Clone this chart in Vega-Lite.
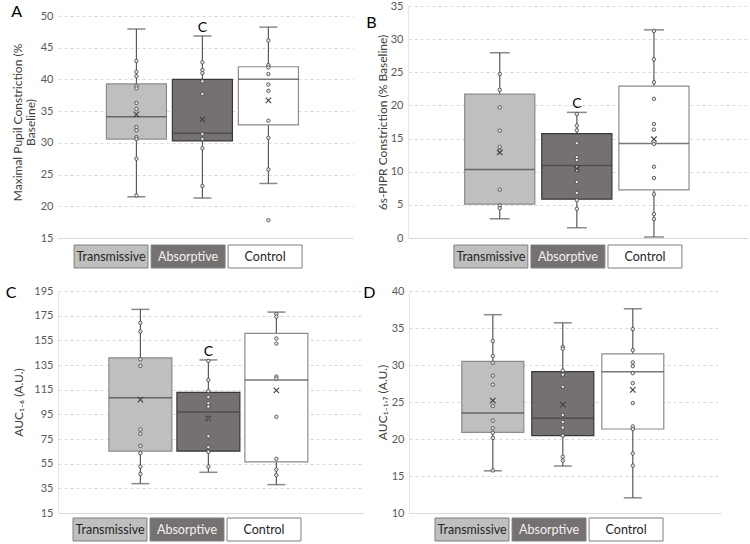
{
  "$schema": "https://vega.github.io/schema/vega-lite/v6.json",
  "padding": {"left": 5, "top": 0, "right": 5, "bottom": 0},
  "spacing": 15,
  "datasets": {
    "sumA": [
      {"group": "Transmissive", "lower": 21.5, "q1": 30.6, "median": 34.1, "q3": 39.3, "upper": 47.95, "mean": 34.5, "sig": ""},
      {"group": "Absorptive", "lower": 21.3, "q1": 30.3, "median": 31.5, "q3": 40.0, "upper": 46.85, "mean": 33.7, "sig": "C"},
      {"group": "Control", "lower": 23.6, "q1": 32.85, "median": 40.05, "q3": 42.0, "upper": 48.25, "mean": 36.7, "sig": ""}
    ],
    "ptsA": [
      {"group": "Transmissive", "value": 42.9}, {"group": "Transmissive", "value": 41.2}, {"group": "Transmissive", "value": 40.5},
      {"group": "Transmissive", "value": 38.95}, {"group": "Transmissive", "value": 38.6}, {"group": "Transmissive", "value": 36.3},
      {"group": "Transmissive", "value": 35.35}, {"group": "Transmissive", "value": 32.5}, {"group": "Transmissive", "value": 32.0},
      {"group": "Transmissive", "value": 30.9}, {"group": "Transmissive", "value": 30.6}, {"group": "Transmissive", "value": 27.5},
      {"group": "Transmissive", "value": 21.7},
      {"group": "Absorptive", "value": 42.7}, {"group": "Absorptive", "value": 41.5}, {"group": "Absorptive", "value": 41.0},
      {"group": "Absorptive", "value": 39.7}, {"group": "Absorptive", "value": 37.7}, {"group": "Absorptive", "value": 31.4},
      {"group": "Absorptive", "value": 30.6}, {"group": "Absorptive", "value": 29.15}, {"group": "Absorptive", "value": 23.2},
      {"group": "Control", "value": 46.15}, {"group": "Control", "value": 42.25}, {"group": "Control", "value": 41.9},
      {"group": "Control", "value": 40.85}, {"group": "Control", "value": 39.2}, {"group": "Control", "value": 38.2},
      {"group": "Control", "value": 33.5}, {"group": "Control", "value": 30.8}, {"group": "Control", "value": 25.8},
      {"group": "Control", "value": 17.8}
    ],
    "sumB": [
      {"group": "Transmissive", "lower": 2.9, "q1": 5.1, "median": 10.35, "q3": 21.7, "upper": 27.95, "mean": 12.9, "sig": ""},
      {"group": "Absorptive", "lower": 1.55, "q1": 5.85, "median": 10.95, "q3": 15.75, "upper": 18.95, "mean": 10.45, "sig": "C"},
      {"group": "Control", "lower": 0.15, "q1": 7.25, "median": 14.25, "q3": 22.9, "upper": 31.4, "mean": 14.9, "sig": ""}
    ],
    "ptsB": [
      {"group": "Transmissive", "value": 24.75}, {"group": "Transmissive", "value": 22.35}, {"group": "Transmissive", "value": 19.7},
      {"group": "Transmissive", "value": 16.2}, {"group": "Transmissive", "value": 13.75}, {"group": "Transmissive", "value": 13.15},
      {"group": "Transmissive", "value": 7.3}, {"group": "Transmissive", "value": 4.9}, {"group": "Transmissive", "value": 4.5},
      {"group": "Absorptive", "value": 18.7}, {"group": "Absorptive", "value": 16.95}, {"group": "Absorptive", "value": 16.25},
      {"group": "Absorptive", "value": 14.3}, {"group": "Absorptive", "value": 12.2}, {"group": "Absorptive", "value": 11.75},
      {"group": "Absorptive", "value": 10.65}, {"group": "Absorptive", "value": 10.25}, {"group": "Absorptive", "value": 8.45},
      {"group": "Absorptive", "value": 6.8}, {"group": "Absorptive", "value": 5.7}, {"group": "Absorptive", "value": 4.4},
      {"group": "Control", "value": 31.25}, {"group": "Control", "value": 26.95}, {"group": "Control", "value": 23.5},
      {"group": "Control", "value": 21.0}, {"group": "Control", "value": 17.2}, {"group": "Control", "value": 16.35},
      {"group": "Control", "value": 14.2}, {"group": "Control", "value": 10.75}, {"group": "Control", "value": 9.05},
      {"group": "Control", "value": 6.6}, {"group": "Control", "value": 3.6}, {"group": "Control", "value": 2.85}
    ],
    "sumC": [
      {"group": "Transmissive", "lower": 38.8, "q1": 65.1, "median": 108.5, "q3": 140.8, "upper": 180.1, "mean": 106.9, "sig": ""},
      {"group": "Absorptive", "lower": 48.0, "q1": 65.1, "median": 96.8, "q3": 112.8, "upper": 139.1, "mean": 91.7, "sig": "C"},
      {"group": "Control", "lower": 38.0, "q1": 56.4, "median": 122.9, "q3": 160.6, "upper": 177.9, "mean": 114.5, "sig": ""}
    ],
    "ptsC": [
      {"group": "Transmissive", "value": 169.2}, {"group": "Transmissive", "value": 162.2}, {"group": "Transmissive", "value": 139.7},
      {"group": "Transmissive", "value": 134.3}, {"group": "Transmissive", "value": 82.7}, {"group": "Transmissive", "value": 79.2},
      {"group": "Transmissive", "value": 69.4}, {"group": "Transmissive", "value": 63.5}, {"group": "Transmissive", "value": 52.6},
      {"group": "Transmissive", "value": 46.7},
      {"group": "Absorptive", "value": 138.3}, {"group": "Absorptive", "value": 122.9}, {"group": "Absorptive", "value": 113.9},
      {"group": "Absorptive", "value": 109.0}, {"group": "Absorptive", "value": 103.9}, {"group": "Absorptive", "value": 101.4},
      {"group": "Absorptive", "value": 91.7}, {"group": "Absorptive", "value": 77.3}, {"group": "Absorptive", "value": 68.4},
      {"group": "Absorptive", "value": 64.6}, {"group": "Absorptive", "value": 52.6},
      {"group": "Control", "value": 176.3}, {"group": "Control", "value": 174.1}, {"group": "Control", "value": 156.5},
      {"group": "Control", "value": 152.4}, {"group": "Control", "value": 125.6}, {"group": "Control", "value": 124.0},
      {"group": "Control", "value": 93.0}, {"group": "Control", "value": 58.9}, {"group": "Control", "value": 50.2},
      {"group": "Control", "value": 45.6}
    ],
    "sumD": [
      {"group": "Transmissive", "lower": 15.7, "q1": 20.9, "median": 23.5, "q3": 30.5, "upper": 36.8, "mean": 25.2, "sig": ""},
      {"group": "Absorptive", "lower": 16.35, "q1": 20.45, "median": 22.8, "q3": 29.1, "upper": 35.7, "mean": 24.65, "sig": ""},
      {"group": "Control", "lower": 12.05, "q1": 21.35, "median": 29.1, "q3": 31.5, "upper": 37.6, "mean": 26.65, "sig": ""}
    ],
    "ptsD": [
      {"group": "Transmissive", "value": 33.25}, {"group": "Transmissive", "value": 31.2}, {"group": "Transmissive", "value": 30.3},
      {"group": "Transmissive", "value": 28.55}, {"group": "Transmissive", "value": 27.35}, {"group": "Transmissive", "value": 24.45},
      {"group": "Transmissive", "value": 22.5}, {"group": "Transmissive", "value": 21.45}, {"group": "Transmissive", "value": 20.85},
      {"group": "Transmissive", "value": 20.15}, {"group": "Transmissive", "value": 15.75},
      {"group": "Absorptive", "value": 32.45}, {"group": "Absorptive", "value": 32.2}, {"group": "Absorptive", "value": 29.25},
      {"group": "Absorptive", "value": 28.7}, {"group": "Absorptive", "value": 27.05}, {"group": "Absorptive", "value": 23.25},
      {"group": "Absorptive", "value": 22.3}, {"group": "Absorptive", "value": 21.55}, {"group": "Absorptive", "value": 20.45},
      {"group": "Absorptive", "value": 17.6}, {"group": "Absorptive", "value": 17.1},
      {"group": "Control", "value": 34.85}, {"group": "Control", "value": 32.0}, {"group": "Control", "value": 30.35},
      {"group": "Control", "value": 29.85}, {"group": "Control", "value": 28.9}, {"group": "Control", "value": 27.55},
      {"group": "Control", "value": 24.85}, {"group": "Control", "value": 21.7}, {"group": "Control", "value": 21.35},
      {"group": "Control", "value": 18.05}, {"group": "Control", "value": 16.4}
    ]
  },
  "vconcat": [
    {
      "columns": 2,
      "align": "none",
      "spacing": 13,
      "concat": [
        {
          "bounds": "flush",
          "spacing": 7,
          "resolve": {"scale": {"x": "independent"}},
          "vconcat": [
            {
              "width": 295, "height": 232,
              "title": {"text": "A", "offset": -14, "dx": 0},
              "encoding": {"x": {"field": "group", "type": "nominal", "scale": {"domain": ["Transmissive", "Absorptive", "Control"], "paddingInner": 0.09, "paddingOuter": 0.78, "align": 0.47}, "axis": {"labels": false, "ticks": false, "title": null}}},
              "layer": [
                {"data": {"name": "sumA"}, "mark": {"type": "rule", "color": "#595959", "strokeWidth": 1.2},
                 "encoding": {"y": {"field": "lower", "type": "quantitative", "scale": {"domain": [15, 51.58], "nice": false, "zero": false}, "axis": {"values": [15, 20, 25, 30, 35, 40, 45, 50], "title": ["Maximal Pupil Constriction (%", "Baseline)"], "titlePadding": 3, "titleLineHeight": 13, "domain": false}}, "y2": {"field": "upper"}}},
                {"data": {"name": "sumA"}, "mark": {"type": "bar", "strokeWidth": 1.2},
                 "encoding": {"y": {"field": "q1", "type": "quantitative", "scale": {"domain": [15, 51.58], "nice": false, "zero": false}, "axis": {"values": [15, 20, 25, 30, 35, 40, 45, 50], "title": ["Maximal Pupil Constriction (%", "Baseline)"], "titlePadding": 3, "titleLineHeight": 13, "domain": false}}, "y2": {"field": "q3"},
                   "fill": {"field": "group", "type": "nominal", "scale": {"domain": ["Transmissive", "Absorptive", "Control"], "range": ["#bfbfbf", "#767171", "#ffffff"]}, "legend": null},
                   "stroke": {"field": "group", "type": "nominal", "scale": {"domain": ["Transmissive", "Absorptive", "Control"], "range": ["#8c8c8c", "#3a3838", "#8c8c8c"]}, "legend": null}}},
                {"data": {"name": "sumA"}, "mark": {"type": "tick", "color": "#595959", "size": 18, "thickness": 1.5},
                 "encoding": {"y": {"field": "upper", "type": "quantitative", "scale": {"domain": [15, 51.58], "nice": false, "zero": false}, "axis": {"values": [15, 20, 25, 30, 35, 40, 45, 50], "title": ["Maximal Pupil Constriction (%", "Baseline)"], "titlePadding": 3, "titleLineHeight": 13, "domain": false}}}},
                {"data": {"name": "sumA"}, "mark": {"type": "tick", "color": "#595959", "size": 18, "thickness": 1.5},
                 "encoding": {"y": {"field": "lower", "type": "quantitative", "scale": {"domain": [15, 51.58], "nice": false, "zero": false}, "axis": {"values": [15, 20, 25, 30, 35, 40, 45, 50], "title": ["Maximal Pupil Constriction (%", "Baseline)"], "titlePadding": 3, "titleLineHeight": 13, "domain": false}}}},
                {"data": {"name": "sumA"}, "mark": {"type": "tick", "color": "#404040", "size": 60, "thickness": 1.5},
                 "encoding": {"y": {"field": "median", "type": "quantitative", "scale": {"domain": [15, 51.58], "nice": false, "zero": false}, "axis": {"values": [15, 20, 25, 30, 35, 40, 45, 50], "title": ["Maximal Pupil Constriction (%", "Baseline)"], "titlePadding": 3, "titleLineHeight": 13, "domain": false}}}},
                {"data": {"name": "ptsA"}, "mark": {"type": "point", "shape": "circle", "size": 12, "filled": true, "fill": "#e6e6e6", "stroke": "#404040", "strokeWidth": 0.8, "opacity": 1},
                 "encoding": {"y": {"field": "value", "type": "quantitative", "scale": {"domain": [15, 51.58], "nice": false, "zero": false}, "axis": {"values": [15, 20, 25, 30, 35, 40, 45, 50], "title": ["Maximal Pupil Constriction (%", "Baseline)"], "titlePadding": 3, "titleLineHeight": 13, "domain": false}}}},
                {"data": {"name": "sumA"}, "mark": {"type": "point", "shape": "M-1,-1L1,1M-1,1L1,-1", "size": 30, "filled": false, "stroke": "#404040", "strokeWidth": 1.1, "opacity": 1},
                 "encoding": {"y": {"field": "mean", "type": "quantitative", "scale": {"domain": [15, 51.58], "nice": false, "zero": false}, "axis": {"values": [15, 20, 25, 30, 35, 40, 45, 50], "title": ["Maximal Pupil Constriction (%", "Baseline)"], "titlePadding": 3, "titleLineHeight": 13, "domain": false}}}},
                {"data": {"name": "sumA"}, "mark": {"type": "text", "fontSize": 14, "dy": -8, "color": "#000000"},
                 "encoding": {"y": {"field": "upper", "type": "quantitative", "scale": {"domain": [15, 51.58], "nice": false, "zero": false}, "axis": {"values": [15, 20, 25, 30, 35, 40, 45, 50], "title": ["Maximal Pupil Constriction (%", "Baseline)"], "titlePadding": 3, "titleLineHeight": 13, "domain": false}}, "text": {"field": "sig"}}}
              ]
            },
            {
              "width": 295, "height": 23,
              "data": {"name": "sumA"},
              "encoding": {"x": {"field": "group", "type": "nominal", "scale": {"domain": ["Transmissive", "Absorptive", "Control"], "paddingInner": 0.04, "paddingOuter": 0.435, "align": 0.24}, "axis": null}},
              "layer": [
                {"mark": {"type": "bar", "stroke": "#7f7f7f", "strokeWidth": 1},
                 "encoding": {"fill": {"field": "group", "type": "nominal", "scale": {"domain": ["Transmissive", "Absorptive", "Control"], "range": ["#bfbfbf", "#767171", "#ffffff"]}, "legend": null}}},
                {"mark": {"type": "text", "fontSize": 12.5},
                 "encoding": {"text": {"field": "group"}, "color": {"condition": {"test": "datum.group === 'Absorptive'", "value": "#f2f2f2"}, "value": "#262626"}}}
              ]
            }
          ]
        },
        {
          "bounds": "flush",
          "spacing": 7,
          "resolve": {"scale": {"x": "independent"}},
          "vconcat": [
            {
              "width": 340, "height": 232,
              "title": {"text": "B", "offset": -31, "dx": -10},
              "encoding": {"x": {"field": "group", "type": "nominal", "scale": {"domain": ["Transmissive", "Absorptive", "Control"], "paddingInner": 0.09, "paddingOuter": 0.75, "align": 0.49}, "axis": {"labels": false, "ticks": false, "title": null}}},
              "layer": [
                {"data": {"name": "sumB"}, "mark": {"type": "rule", "color": "#595959", "strokeWidth": 1.2},
                 "encoding": {"y": {"field": "lower", "type": "quantitative", "scale": {"domain": [0, 35], "nice": false, "zero": false}, "axis": {"values": [0, 5, 10, 15, 20, 25, 30, 35], "title": "6s-PIPR Constriction (% Baseline)", "titlePadding": 1}}, "y2": {"field": "upper"}}},
                {"data": {"name": "sumB"}, "mark": {"type": "bar", "strokeWidth": 1.2},
                 "encoding": {"y": {"field": "q1", "type": "quantitative", "scale": {"domain": [0, 35], "nice": false, "zero": false}, "axis": {"values": [0, 5, 10, 15, 20, 25, 30, 35], "title": "6s-PIPR Constriction (% Baseline)", "titlePadding": 1}}, "y2": {"field": "q3"},
                   "fill": {"field": "group", "type": "nominal", "scale": {"domain": ["Transmissive", "Absorptive", "Control"], "range": ["#bfbfbf", "#767171", "#ffffff"]}, "legend": null},
                   "stroke": {"field": "group", "type": "nominal", "scale": {"domain": ["Transmissive", "Absorptive", "Control"], "range": ["#8c8c8c", "#3a3838", "#8c8c8c"]}, "legend": null}}},
                {"data": {"name": "sumB"}, "mark": {"type": "tick", "color": "#595959", "size": 20, "thickness": 1.5},
                 "encoding": {"y": {"field": "upper", "type": "quantitative", "scale": {"domain": [0, 35], "nice": false, "zero": false}, "axis": {"values": [0, 5, 10, 15, 20, 25, 30, 35], "title": "6s-PIPR Constriction (% Baseline)", "titlePadding": 1}}}},
                {"data": {"name": "sumB"}, "mark": {"type": "tick", "color": "#595959", "size": 20, "thickness": 1.5},
                 "encoding": {"y": {"field": "lower", "type": "quantitative", "scale": {"domain": [0, 35], "nice": false, "zero": false}, "axis": {"values": [0, 5, 10, 15, 20, 25, 30, 35], "title": "6s-PIPR Constriction (% Baseline)", "titlePadding": 1}}}},
                {"data": {"name": "sumB"}, "mark": {"type": "tick", "color": "#404040", "size": 70, "thickness": 1.5},
                 "encoding": {"y": {"field": "median", "type": "quantitative", "scale": {"domain": [0, 35], "nice": false, "zero": false}, "axis": {"values": [0, 5, 10, 15, 20, 25, 30, 35], "title": "6s-PIPR Constriction (% Baseline)", "titlePadding": 1}}}},
                {"data": {"name": "ptsB"}, "mark": {"type": "point", "shape": "circle", "size": 12, "filled": true, "fill": "#e6e6e6", "stroke": "#404040", "strokeWidth": 0.8, "opacity": 1},
                 "encoding": {"y": {"field": "value", "type": "quantitative", "scale": {"domain": [0, 35], "nice": false, "zero": false}, "axis": {"values": [0, 5, 10, 15, 20, 25, 30, 35], "title": "6s-PIPR Constriction (% Baseline)", "titlePadding": 1}}}},
                {"data": {"name": "sumB"}, "mark": {"type": "point", "shape": "M-1,-1L1,1M-1,1L1,-1", "size": 30, "filled": false, "stroke": "#404040", "strokeWidth": 1.1, "opacity": 1},
                 "encoding": {"y": {"field": "mean", "type": "quantitative", "scale": {"domain": [0, 35], "nice": false, "zero": false}, "axis": {"values": [0, 5, 10, 15, 20, 25, 30, 35], "title": "6s-PIPR Constriction (% Baseline)", "titlePadding": 1}}}},
                {"data": {"name": "sumB"}, "mark": {"type": "text", "fontSize": 14, "dy": -8, "color": "#000000"},
                 "encoding": {"y": {"field": "upper", "type": "quantitative", "scale": {"domain": [0, 35], "nice": false, "zero": false}, "axis": {"values": [0, 5, 10, 15, 20, 25, 30, 35], "title": "6s-PIPR Constriction (% Baseline)", "titlePadding": 1}}, "text": {"field": "sig"}}}
              ]
            },
            {
              "width": 340, "height": 23,
              "data": {"name": "sumB"},
              "encoding": {"x": {"field": "group", "type": "nominal", "scale": {"domain": ["Transmissive", "Absorptive", "Control"], "paddingInner": 0.04, "paddingOuter": 0.727, "align": 0.41}, "axis": null}},
              "layer": [
                {"mark": {"type": "bar", "stroke": "#7f7f7f", "strokeWidth": 1},
                 "encoding": {"fill": {"field": "group", "type": "nominal", "scale": {"domain": ["Transmissive", "Absorptive", "Control"], "range": ["#bfbfbf", "#767171", "#ffffff"]}, "legend": null}}},
                {"mark": {"type": "text", "fontSize": 12.5},
                 "encoding": {"text": {"field": "group"}, "color": {"condition": {"test": "datum.group === 'Absorptive'", "value": "#f2f2f2"}, "value": "#262626"}}}
              ]
            }
          ]
        }
      ]
    },
    {
      "columns": 2,
      "align": "none",
      "spacing": 0,
      "concat": [
        {
          "bounds": "flush",
          "spacing": 5,
          "resolve": {"scale": {"x": "independent"}},
          "vconcat": [
            {
              "width": 305, "height": 222,
              "title": {"text": "C", "offset": -15.5, "dx": -7},
              "encoding": {"x": {"field": "group", "type": "nominal", "scale": {"domain": ["Transmissive", "Absorptive", "Control"], "paddingInner": 0.074, "paddingOuter": 0.78, "align": 0.48}, "axis": {"labels": false, "ticks": false, "title": null}}},
              "layer": [
                {"data": {"name": "sumC"}, "mark": {"type": "rule", "color": "#595959", "strokeWidth": 1.2},
                 "encoding": {"y": {"field": "lower", "type": "quantitative", "scale": {"domain": [15, 195], "nice": false, "zero": false}, "axis": {"values": [15, 35, 55, 75, 95, 115, 135, 155, 175, 195], "title": "AUC₁₋₆ (A.U.)", "titlePadding": 8}}, "y2": {"field": "upper"}}},
                {"data": {"name": "sumC"}, "mark": {"type": "bar", "strokeWidth": 1.2},
                 "encoding": {"y": {"field": "q1", "type": "quantitative", "scale": {"domain": [15, 195], "nice": false, "zero": false}, "axis": {"values": [15, 35, 55, 75, 95, 115, 135, 155, 175, 195], "title": "AUC₁₋₆ (A.U.)", "titlePadding": 8}}, "y2": {"field": "q3"},
                   "fill": {"field": "group", "type": "nominal", "scale": {"domain": ["Transmissive", "Absorptive", "Control"], "range": ["#bfbfbf", "#767171", "#ffffff"]}, "legend": null},
                   "stroke": {"field": "group", "type": "nominal", "scale": {"domain": ["Transmissive", "Absorptive", "Control"], "range": ["#8c8c8c", "#3a3838", "#8c8c8c"]}, "legend": null}}},
                {"data": {"name": "sumC"}, "mark": {"type": "tick", "color": "#595959", "size": 18, "thickness": 1.5},
                 "encoding": {"y": {"field": "upper", "type": "quantitative", "scale": {"domain": [15, 195], "nice": false, "zero": false}, "axis": {"values": [15, 35, 55, 75, 95, 115, 135, 155, 175, 195], "title": "AUC₁₋₆ (A.U.)", "titlePadding": 8}}}},
                {"data": {"name": "sumC"}, "mark": {"type": "tick", "color": "#595959", "size": 18, "thickness": 1.5},
                 "encoding": {"y": {"field": "lower", "type": "quantitative", "scale": {"domain": [15, 195], "nice": false, "zero": false}, "axis": {"values": [15, 35, 55, 75, 95, 115, 135, 155, 175, 195], "title": "AUC₁₋₆ (A.U.)", "titlePadding": 8}}}},
                {"data": {"name": "sumC"}, "mark": {"type": "tick", "color": "#404040", "size": 63, "thickness": 1.5},
                 "encoding": {"y": {"field": "median", "type": "quantitative", "scale": {"domain": [15, 195], "nice": false, "zero": false}, "axis": {"values": [15, 35, 55, 75, 95, 115, 135, 155, 175, 195], "title": "AUC₁₋₆ (A.U.)", "titlePadding": 8}}}},
                {"data": {"name": "ptsC"}, "mark": {"type": "point", "shape": "circle", "size": 12, "filled": true, "fill": "#e6e6e6", "stroke": "#404040", "strokeWidth": 0.8, "opacity": 1},
                 "encoding": {"y": {"field": "value", "type": "quantitative", "scale": {"domain": [15, 195], "nice": false, "zero": false}, "axis": {"values": [15, 35, 55, 75, 95, 115, 135, 155, 175, 195], "title": "AUC₁₋₆ (A.U.)", "titlePadding": 8}}}},
                {"data": {"name": "sumC"}, "mark": {"type": "point", "shape": "M-1,-1L1,1M-1,1L1,-1", "size": 30, "filled": false, "stroke": "#404040", "strokeWidth": 1.1, "opacity": 1},
                 "encoding": {"y": {"field": "mean", "type": "quantitative", "scale": {"domain": [15, 195], "nice": false, "zero": false}, "axis": {"values": [15, 35, 55, 75, 95, 115, 135, 155, 175, 195], "title": "AUC₁₋₆ (A.U.)", "titlePadding": 8}}}},
                {"data": {"name": "sumC"}, "mark": {"type": "text", "fontSize": 14, "dy": -8, "color": "#000000"},
                 "encoding": {"y": {"field": "upper", "type": "quantitative", "scale": {"domain": [15, 195], "nice": false, "zero": false}, "axis": {"values": [15, 35, 55, 75, 95, 115, 135, 155, 175, 195], "title": "AUC₁₋₆ (A.U.)", "titlePadding": 8}}, "text": {"field": "sig"}}}
              ]
            },
            {
              "width": 305, "height": 23,
              "data": {"name": "sumC"},
              "encoding": {"x": {"field": "group", "type": "nominal", "scale": {"domain": ["Transmissive", "Absorptive", "Control"], "paddingInner": 0.04, "paddingOuter": 0.5, "align": 0.195}, "axis": null}},
              "layer": [
                {"mark": {"type": "bar", "stroke": "#7f7f7f", "strokeWidth": 1},
                 "encoding": {"fill": {"field": "group", "type": "nominal", "scale": {"domain": ["Transmissive", "Absorptive", "Control"], "range": ["#bfbfbf", "#767171", "#ffffff"]}, "legend": null}}},
                {"mark": {"type": "text", "fontSize": 12.5},
                 "encoding": {"text": {"field": "group"}, "color": {"condition": {"test": "datum.group === 'Absorptive'", "value": "#f2f2f2"}, "value": "#262626"}}}
              ]
            }
          ]
        },
        {
          "bounds": "flush",
          "spacing": 5,
          "resolve": {"scale": {"x": "independent"}},
          "vconcat": [
            {
              "width": 312, "height": 222,
              "title": {"text": "D", "offset": -15.5, "dx": -13},
              "encoding": {"x": {"field": "group", "type": "nominal", "scale": {"domain": ["Transmissive", "Absorptive", "Control"], "paddingInner": 0.114, "paddingOuter": 0.786, "align": 0.48}, "axis": {"labels": false, "ticks": false, "title": null}}},
              "layer": [
                {"data": {"name": "sumD"}, "mark": {"type": "rule", "color": "#595959", "strokeWidth": 1.2},
                 "encoding": {"y": {"field": "lower", "type": "quantitative", "scale": {"domain": [10, 40], "nice": false, "zero": false}, "axis": {"values": [10, 15, 20, 25, 30, 35, 40], "title": "AUC₁₋₁.₇ (A.U.)", "titlePadding": 2}}, "y2": {"field": "upper"}}},
                {"data": {"name": "sumD"}, "mark": {"type": "bar", "strokeWidth": 1.2},
                 "encoding": {"y": {"field": "q1", "type": "quantitative", "scale": {"domain": [10, 40], "nice": false, "zero": false}, "axis": {"values": [10, 15, 20, 25, 30, 35, 40], "title": "AUC₁₋₁.₇ (A.U.)", "titlePadding": 2}}, "y2": {"field": "q3"},
                   "fill": {"field": "group", "type": "nominal", "scale": {"domain": ["Transmissive", "Absorptive", "Control"], "range": ["#bfbfbf", "#767171", "#ffffff"]}, "legend": null},
                   "stroke": {"field": "group", "type": "nominal", "scale": {"domain": ["Transmissive", "Absorptive", "Control"], "range": ["#8c8c8c", "#3a3838", "#8c8c8c"]}, "legend": null}}},
                {"data": {"name": "sumD"}, "mark": {"type": "tick", "color": "#595959", "size": 18, "thickness": 1.5},
                 "encoding": {"y": {"field": "upper", "type": "quantitative", "scale": {"domain": [10, 40], "nice": false, "zero": false}, "axis": {"values": [10, 15, 20, 25, 30, 35, 40], "title": "AUC₁₋₁.₇ (A.U.)", "titlePadding": 2}}}},
                {"data": {"name": "sumD"}, "mark": {"type": "tick", "color": "#595959", "size": 18, "thickness": 1.5},
                 "encoding": {"y": {"field": "lower", "type": "quantitative", "scale": {"domain": [10, 40], "nice": false, "zero": false}, "axis": {"values": [10, 15, 20, 25, 30, 35, 40], "title": "AUC₁₋₁.₇ (A.U.)", "titlePadding": 2}}}},
                {"data": {"name": "sumD"}, "mark": {"type": "tick", "color": "#404040", "size": 62, "thickness": 1.5},
                 "encoding": {"y": {"field": "median", "type": "quantitative", "scale": {"domain": [10, 40], "nice": false, "zero": false}, "axis": {"values": [10, 15, 20, 25, 30, 35, 40], "title": "AUC₁₋₁.₇ (A.U.)", "titlePadding": 2}}}},
                {"data": {"name": "ptsD"}, "mark": {"type": "point", "shape": "circle", "size": 12, "filled": true, "fill": "#e6e6e6", "stroke": "#404040", "strokeWidth": 0.8, "opacity": 1},
                 "encoding": {"y": {"field": "value", "type": "quantitative", "scale": {"domain": [10, 40], "nice": false, "zero": false}, "axis": {"values": [10, 15, 20, 25, 30, 35, 40], "title": "AUC₁₋₁.₇ (A.U.)", "titlePadding": 2}}}},
                {"data": {"name": "sumD"}, "mark": {"type": "point", "shape": "M-1,-1L1,1M-1,1L1,-1", "size": 30, "filled": false, "stroke": "#404040", "strokeWidth": 1.1, "opacity": 1},
                 "encoding": {"y": {"field": "mean", "type": "quantitative", "scale": {"domain": [10, 40], "nice": false, "zero": false}, "axis": {"values": [10, 15, 20, 25, 30, 35, 40], "title": "AUC₁₋₁.₇ (A.U.)", "titlePadding": 2}}}}
              ]
            },
            {
              "width": 312, "height": 23,
              "data": {"name": "sumD"},
              "encoding": {"x": {"field": "group", "type": "nominal", "scale": {"domain": ["Transmissive", "Absorptive", "Control"], "paddingInner": 0.04, "paddingOuter": 0.545, "align": 0.31}, "axis": null}},
              "layer": [
                {"mark": {"type": "bar", "stroke": "#7f7f7f", "strokeWidth": 1},
                 "encoding": {"fill": {"field": "group", "type": "nominal", "scale": {"domain": ["Transmissive", "Absorptive", "Control"], "range": ["#bfbfbf", "#767171", "#ffffff"]}, "legend": null}}},
                {"mark": {"type": "text", "fontSize": 12.5},
                 "encoding": {"text": {"field": "group"}, "color": {"condition": {"test": "datum.group === 'Absorptive'", "value": "#f2f2f2"}, "value": "#262626"}}}
              ]
            }
          ]
        }
      ]
    }
  ],
  "config": {
    "font": "Lato",
    "view": {"stroke": null},
    "title": {"fontSize": 16, "fontWeight": "normal", "anchor": "start", "frame": "bounds", "baseline": "bottom", "color": "#000000", "font": "Lato"},
    "axis": {"labelFontSize": 11, "labelColor": "#595959", "titleFontSize": 12, "titleColor": "#404040", "titleFontWeight": "normal", "labelFont": "Lato", "titleFont": "Lato"},
    "axisY": {"grid": true, "gridColor": "#d9d9d9", "gridDash": [3, 3], "domainColor": "#e6e6e6", "ticks": false, "labelPadding": 5},
    "axisX": {"grid": false, "domainColor": "#d9d9d9"}
  }
}
